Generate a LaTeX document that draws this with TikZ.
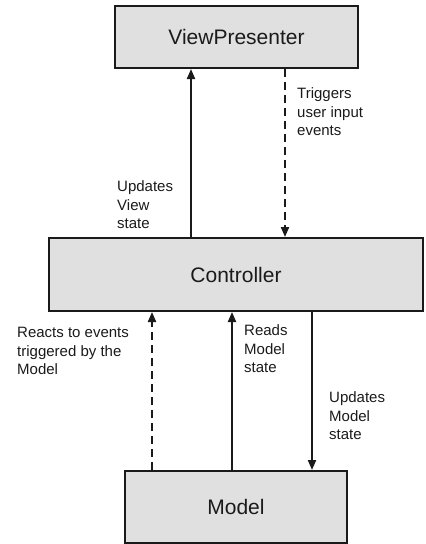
\documentclass[tikz,border=0pt]{standalone}
\usepackage{fontspec}
\setmainfont{Liberation Sans}
\usetikzlibrary{arrows.meta}
\definecolor{boxfill}{HTML}{E0E0E0}
\definecolor{ink}{HTML}{1A1A1A}
\tikzset{
  block/.style={draw=ink, line width=2pt, fill=boxfill, inner sep=0pt,
    font=\fontsize{21}{25}\selectfont, text=ink},
  link/.style={draw=ink, line width=2pt,
    -{Triangle[length=10pt,width=8pt]}},
  dashlink/.style={link, dash pattern=on 8pt off 5pt},
  note/.style={anchor=west, align=left, inner sep=0pt, text=ink,
    font=\fontsize{15}{18.5}\selectfont}
}
\begin{document}
\begin{tikzpicture}[x=1pt, y=-1pt]
  \useasboundingbox (0,0) rectangle (426,544);

  % the three components
  \node[block, minimum width=243pt, minimum height=62pt] (vp) at (236.5,37) {ViewPresenter};
  \node[block, minimum width=374pt, minimum height=73pt] (ctrl) at (236,274.5) {Controller};
  \node[block, minimum width=222pt, minimum height=72pt] (model) at (236,507) {Model};

  % controller <-> view presenter
  \draw[link] (ctrl.north -| 191,0) -- (vp.south -| 191,0);
  \draw[dashlink] (vp.south -| 285,0) -- (ctrl.north -| 285,0);

  % controller <-> model
  \draw[dashlink] (model.north -| 152,0) -- (ctrl.south -| 152,0);
  \draw[link] (model.north -| 232,0) -- (ctrl.south -| 232,0);
  \draw[link] (ctrl.south -| 312,0) -- (model.north -| 312,0);

  % labels
  \node[note] (l1) at (297,112) {Triggers\\user input\\events};
  \node[note] (l2) at (117,205) {Updates\\View\\state};
  \node[note] (l3) at (17,351) {Reacts to events\\triggered by the\\Model};
  \node[note] (l4) at (244,349) {Reads\\Model\\state};
  \node[note] (l5) at (329,416) {Updates\\Model\\state};
\end{tikzpicture}
\end{document}
